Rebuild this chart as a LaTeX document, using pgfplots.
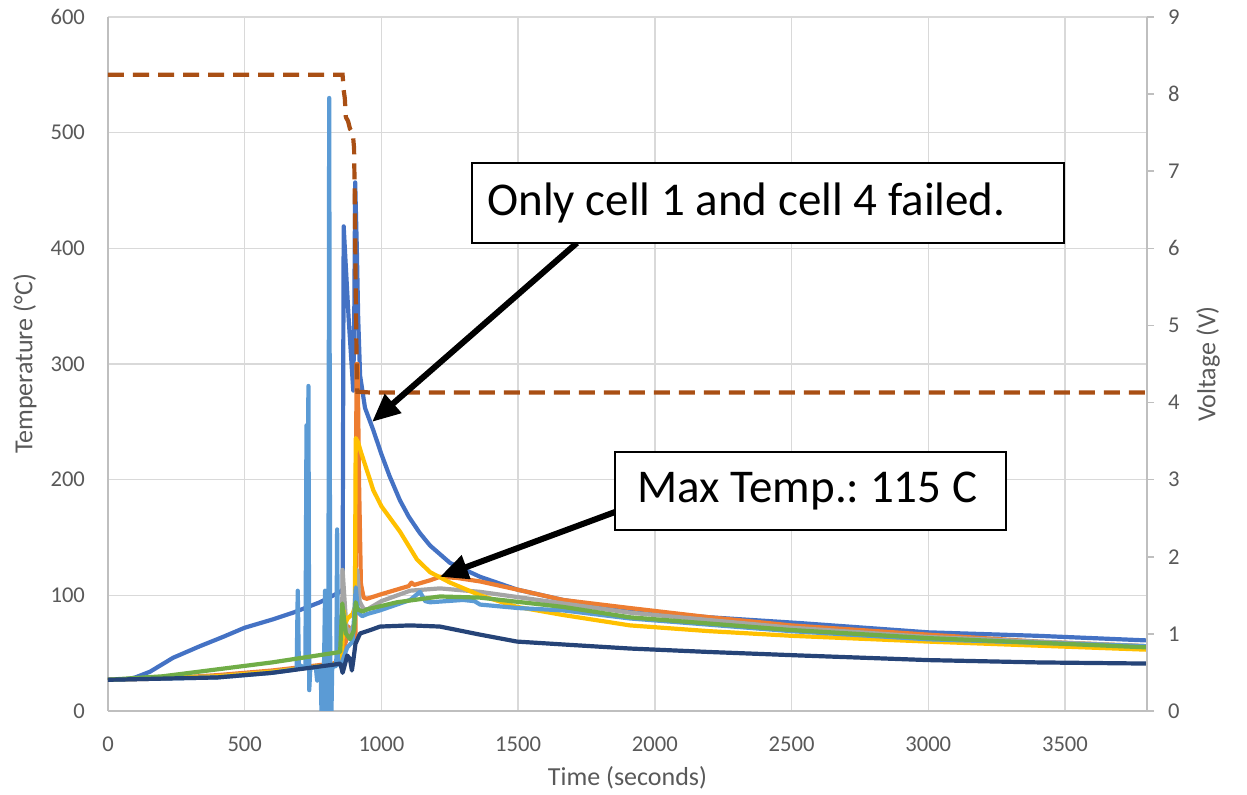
\documentclass[border=0pt]{standalone}
\usepackage{fontspec}
\setmainfont{Carlito}
\usepackage{pgfplots}
\pgfplotsset{compat=1.18}
\usetikzlibrary{arrows.meta}
\frenchspacing

\definecolor{cBlue}{HTML}{4472C4}
\definecolor{cOrange}{HTML}{ED7D31}
\definecolor{cGrey}{HTML}{A5A5A5}
\definecolor{cYellow}{HTML}{FFC000}
\definecolor{cLight}{HTML}{5B9BD5}
\definecolor{cGreen}{HTML}{70AD47}
\definecolor{cNavy}{HTML}{264478}
\definecolor{cVolt}{HTML}{A94F14}
\definecolor{txtgray}{HTML}{595959}
\definecolor{gridgray}{HTML}{D9D9D9}
\definecolor{linegray}{HTML}{BFBFBF}

\pgfplotsset{
  base/.style={
    scale only axis, width=519.5pt, height=347pt,
    at={(0,0)}, anchor=south west,
    xmin=0, xmax=3800,
    /pgf/number format/assume math mode=true,
    /pgf/number format/1000 sep={},
    ticklabel style={font=\fontsize{11.3}{13}\selectfont, text=txtgray},
    label style={font=\fontsize{13}{15}\selectfont, text=txtgray},
    axis line style={linegray, line width=0.75pt},
  },
  temp/.style={line width=2.1pt, line join=round},
}

\begin{document}
\begin{tikzpicture}

\begin{axis}[base,
  ymin=0, ymax=600,
  axis x line*=bottom, axis y line*=left,
  xtick={0,500,...,3500}, ytick={0,100,...,600},
  major tick length=0pt,
  grid=major, grid style={gridgray, line width=0.75pt},
  xticklabel style={yshift=-9.5pt},
  yticklabel style={xshift=-8pt},
  xlabel={Time (seconds)}, ylabel={Temperature (°C)},
  xlabel style={at={(axis description cs:0.5,-0.0965)}, anchor=center},
  ylabel style={at={(axis description cs:-0.0799,0.5)}, anchor=center, rotate=0},
]

% cell temperatures (s, degC)
\addplot[temp, cBlue] coordinates {
(0,27) (60,27) (100,29) (154,34) (238,46) (336,56) (420,64) (500,72)
(600,79) (677,85) (775,94) (849,103) (858,105) (862,419) (868,392)
(880,340) (897,277) (901,350) (904,457) (910,400) (915,340) (922,290)
(940,262) (970,243) (1000,222) (1030,203) (1068,182) (1100,168)
(1140,154) (1178,143) (1251,128) (1361,116) (1496,105) (1664,96)
(1909,87) (2200,81) (2531,76) (3000,68) (3400,65) (3800,61)};

\addplot[temp, cOrange] coordinates {
(0,27) (200,28) (400,31) (600,35) (823,41) (855,44) (862,55) (870,60)
(880,73) (895,60) (905,65) (909,300) (913,300) (918,200) (925,110)
(935,98) (947,97) (1000,101) (1057,105) (1100,108) (1110,111) (1120,109)
(1178,113) (1214,116) (1277,115) (1361,112) (1496,105) (1664,96)
(1909,89) (2200,81) (2500,74) (3000,66) (3400,60) (3800,56)};

\addplot[temp, cGrey] coordinates {
(0,27) (400,30) (600,34) (823,40) (855,44) (858,122) (864,100) (872,72)
(885,68) (900,75) (912,122) (920,95) (935,88) (950,88) (1000,95)
(1105,104) (1214,106) (1361,103) (1664,93) (1909,85) (2500,72)
(3000,64) (3800,56)};

\addplot[temp, cYellow] coordinates {
(0,27) (400,30) (600,34) (823,40) (855,44) (862,87) (868,76) (876,80)
(895,84) (903,90) (906,236) (915,232) (925,224) (940,213) (958,200)
(970,191) (1000,177) (1068,155) (1130,131) (1178,120) (1251,111)
(1361,100) (1496,90) (1664,83) (1909,74) (2200,69) (2500,65)
(3000,60) (3800,53)};

\addplot[temp, cLight] coordinates {
(0,27) (400,29) (600,33) (690,36) (694,104) (698,40) (722,37) (726,247)
(729,120) (733,281) (736,18) (740,37) (760,38) (765,26) (770,38)
(778,38) (781,-5) (785,38) (790,38) (794,104) (797,-5) (801,38)
(806,38) (809,530) (813,-5) (817,-5) (820,38) (835,39) (838,157)
(841,40) (855,41) (860,45) (875,55) (895,60) (906,107) (915,85)
(930,82) (950,84) (995,87) (1105,96) (1141,103) (1160,95) (1178,94)
(1298,96) (1340,95) (1361,92) (1500,89) (1664,87) (1909,80)
(2500,69) (3000,62) (3800,56)};

\addplot[temp, cGreen] coordinates {
(0,27) (200,30) (400,36) (600,42) (849,51) (857,93) (863,80) (870,67)
(885,62) (900,70) (906,94) (912,88) (930,86) (950,88) (1057,94)
(1214,99) (1361,98) (1664,90) (1909,81) (2500,70) (3000,63) (3800,55)};

\addplot[temp, cNavy] coordinates {
(0,27) (400,29) (600,33) (823,40) (850,41) (858,33) (864,38) (875,48)
(885,45) (892,35) (898,45) (905,58) (922,67) (960,70) (995,73)
(1105,74) (1214,73) (1361,66) (1496,60) (1700,57) (1909,54)
(2200,51) (2531,48) (3000,44) (3400,42) (3800,41)};
\end{axis}

\begin{axis}[base,
  ymin=0, ymax=9,
  axis x line=none, axis y line*=right,
  ytick={0,1,...,9},
  ytick align=outside, major tick length=3.5pt,
  tick style={linegray, line width=0.75pt},
  yticklabel style={xshift=3.5pt},
  ylabel={Voltage (V)},
  ylabel style={at={(axis description cs:1.0587,0.5)}, anchor=center, rotate=0},
]
% pack voltage (s, V)
\addplot[cVolt, line width=2.1pt, dash pattern=on 8pt off 4.5pt] coordinates {
(0,8.25) (858,8.25) (862,8.05) (866,7.95) (870,7.7) (878,7.65) (885,7.55)
(895,7.5) (900,7.3) (903,6.5) (906,5.5) (909,4.6) (912,4.14) (960,4.13)
(3800,4.13)};

\draw[line width=3pt, -{Triangle[length=14pt,width=12pt]}]
  (axis cs:1715,6.07) -- (axis cs:966,3.75);
\draw[line width=3pt, -{Triangle[length=14pt,width=12pt]}]
  (axis cs:1854,2.58) -- (axis cs:1214,1.74);

\draw[fill=white, line width=0.75pt] (axis cs:1331,6.069) rectangle (axis cs:3496,7.107);
\node[anchor=west, inner sep=0pt, font=\fontsize{23.5}{28}\selectfont]
  at (axis cs:1386,6.59) {Only cell 1 and cell 4 failed.};
\draw[fill=white, line width=0.75pt] (axis cs:1854,2.347) rectangle (axis cs:3284,3.359);
\node[anchor=west, inner sep=0pt, font=\fontsize{23.5}{28}\selectfont]
  at (axis cs:1935,2.853) {Max Temp.: 115 C};
\end{axis}

\pgfresetboundingbox
\path (-54pt,-42pt) rectangle (569.5pt,355.5pt);
\end{tikzpicture}
\end{document}
